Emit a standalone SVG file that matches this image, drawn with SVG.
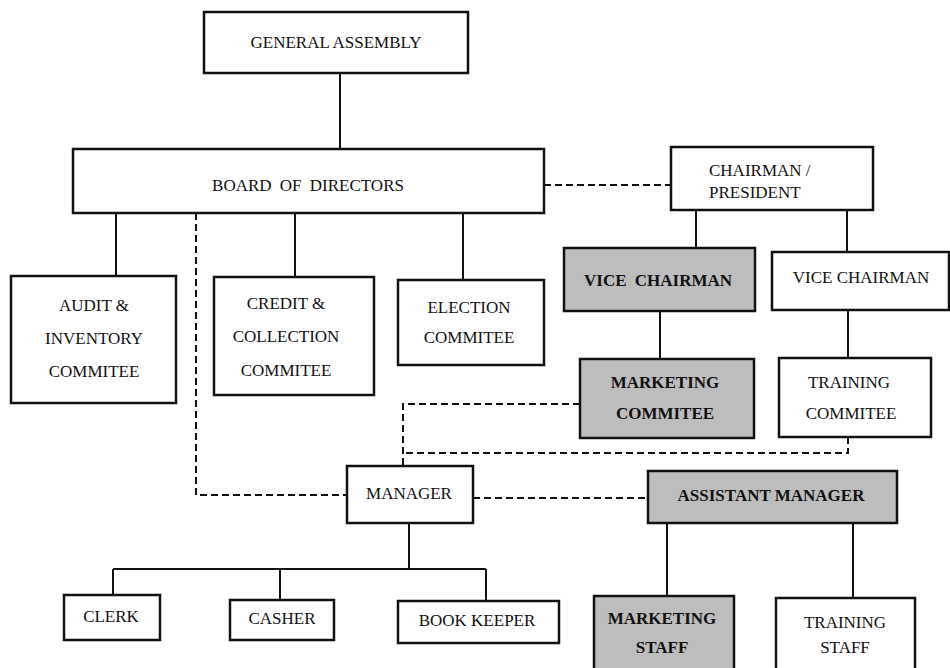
<svg xmlns="http://www.w3.org/2000/svg" width="950" height="668" viewBox="0 0 950 668">
<style>
.box{fill:#ffffff;stroke:#111;stroke-width:2.5}
.shade{fill:#bdbdbd;stroke:#111;stroke-width:2.5}
.t{font-family:"Liberation Serif","Times New Roman",serif;font-size:17px;fill:#111;text-anchor:middle}
.b{font-weight:bold}
.s{text-anchor:start}
.ln{fill:none;stroke:#111;stroke-width:2}
.dash{fill:none;stroke:#111;stroke-width:2;stroke-dasharray:7 4}
</style>
<rect width="950" height="668" fill="#ffffff"/>
<g id="connectors">
<path class="ln" d="M340 73V149"/>
<path class="ln" d="M116 213V276"/>
<path class="ln" d="M295 213V277"/>
<path class="ln" d="M463 213V280"/>
<path class="ln" d="M696 210V248"/>
<path class="ln" d="M847 210V252"/>
<path class="ln" d="M660 311V359"/>
<path class="ln" d="M848 310V358"/>
<path class="ln" d="M409 523V569M113 569H486M113 569V595M280 569V600M486 569V601"/>
<path class="ln" d="M667 523V596"/>
<path class="ln" d="M853 523V598"/>
<path class="dash" d="M544 185H671"/>
<path class="dash" d="M196 213V495H347"/>
<path class="dash" d="M580 404H403V466"/>
<path class="dash" d="M848 437V453H403"/>
<path class="dash" d="M473 498H648"/>
</g>
<g id="general-assembly"><rect class="box" x="204" y="12" width="264" height="61"/><text class="t" x="336" y="48">GENERAL ASSEMBLY</text></g>
<g id="board-of-directors"><rect class="box" x="73" y="149" width="471" height="64"/><text class="t" x="308" y="191" word-spacing="4">BOARD OF DIRECTORS</text></g>
<g id="chairman"><rect class="box" x="671" y="147" width="202" height="63"/><text class="t s" x="709" y="176">CHAIRMAN /</text><text class="t s" x="709" y="198">PRESIDENT</text></g>
<g id="audit"><rect class="box" x="11" y="276" width="165" height="127"/><text class="t" x="94" y="311">AUDIT &amp;</text><text class="t" x="94" y="344">INVENTORY</text><text class="t" x="94" y="377">COMMITEE</text></g>
<g id="credit"><rect class="box" x="214" y="277" width="160" height="118"/><text class="t" x="286" y="309">CREDIT &amp;</text><text class="t" x="286" y="342">COLLECTION</text><text class="t" x="286" y="376">COMMITEE</text></g>
<g id="election"><rect class="box" x="398" y="280" width="146" height="85"/><text class="t" x="469" y="313">ELECTION</text><text class="t" x="469" y="343">COMMITEE</text></g>
<g id="vice-chairman-1"><rect class="shade" x="564" y="248" width="191" height="63"/><text class="t b" x="658" y="286" word-spacing="4">VICE CHAIRMAN</text></g>
<g id="vice-chairman-2"><rect class="box" x="772" y="252" width="177" height="58"/><text class="t" x="861" y="283">VICE CHAIRMAN</text></g>
<g id="marketing-commitee"><rect class="shade" x="580" y="359" width="174" height="79"/><text class="t b" x="665" y="388">MARKETING</text><text class="t b" x="665" y="419">COMMITEE</text></g>
<g id="training-commitee"><rect class="box" x="779" y="358" width="152" height="79"/><text class="t" x="849" y="388">TRAINING</text><text class="t" x="851" y="419">COMMITEE</text></g>
<g id="manager"><rect class="box" x="347" y="466" width="126" height="57"/><text class="t" x="409" y="499">MANAGER</text></g>
<g id="assistant-manager"><rect class="shade" x="648" y="471" width="249" height="52"/><text class="t b" x="771" y="501">ASSISTANT MANAGER</text></g>
<g id="clerk"><rect class="box" x="64" y="595" width="96" height="45"/><text class="t" x="111" y="622">CLERK</text></g>
<g id="casher"><rect class="box" x="230" y="600" width="104" height="40"/><text class="t" x="282" y="624">CASHER</text></g>
<g id="book-keeper"><rect class="box" x="398" y="601" width="161" height="42"/><text class="t" x="477" y="626">BOOK KEEPER</text></g>
<g id="marketing-staff"><rect class="shade" x="594" y="596" width="140" height="80"/><text class="t b" x="662" y="624">MARKETING</text><text class="t b" x="662" y="653">STAFF</text></g>
<g id="training-staff"><rect class="box" x="776" y="598" width="139" height="80"/><text class="t" x="845" y="628">TRAINING</text><text class="t" x="845" y="653">STAFF</text></g>
</svg>
